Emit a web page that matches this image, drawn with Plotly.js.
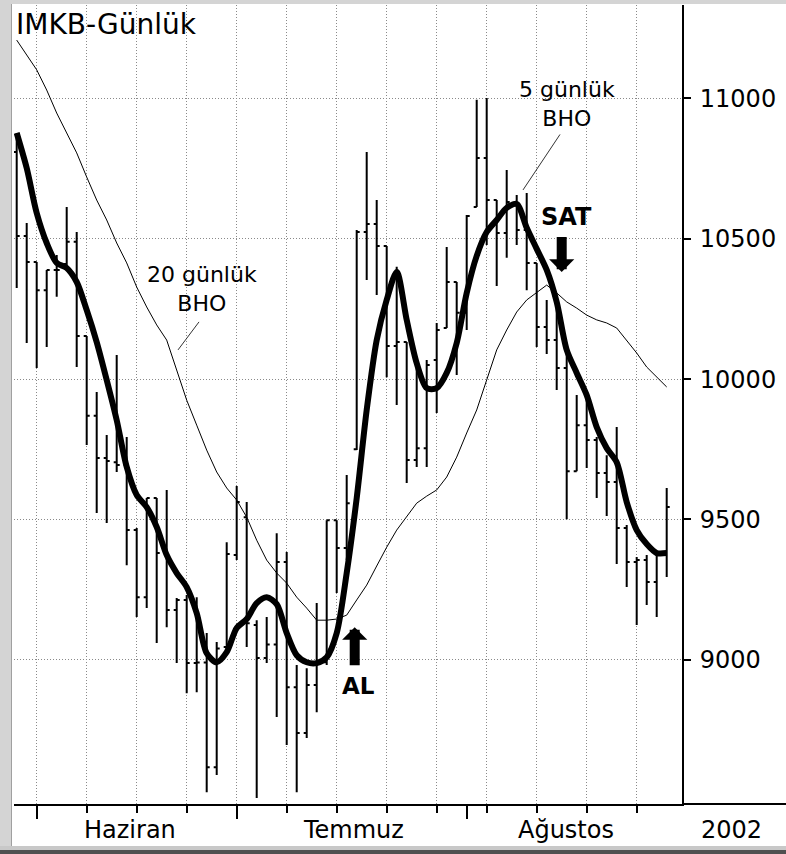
<!DOCTYPE html>
<html><head><meta charset="utf-8">
<script src="https://cdn.plot.ly/plotly-3.0.1.min.js"></script>
<style>html,body{margin:0;padding:0;background:#fff;}#chart{width:786px;height:854px;}</style>
</head><body><div id="chart"></div>
<script>
// ---- DATA ----
const dates = [
 "2002-05-30","2002-05-31",
 "2002-06-03","2002-06-04","2002-06-05","2002-06-06","2002-06-07",
 "2002-06-10","2002-06-11","2002-06-12","2002-06-13","2002-06-14",
 "2002-06-17","2002-06-18","2002-06-19","2002-06-20","2002-06-21",
 "2002-06-24","2002-06-25","2002-06-26","2002-06-27","2002-06-28",
 "2002-07-01","2002-07-02","2002-07-03","2002-07-04","2002-07-05",
 "2002-07-08","2002-07-09","2002-07-10","2002-07-11","2002-07-12",
 "2002-07-15","2002-07-16","2002-07-17","2002-07-18","2002-07-19",
 "2002-07-22","2002-07-23","2002-07-24","2002-07-25","2002-07-26",
 "2002-07-29","2002-07-30","2002-07-31",
 "2002-08-01","2002-08-02",
 "2002-08-05","2002-08-06","2002-08-07","2002-08-08","2002-08-09",
 "2002-08-12","2002-08-13","2002-08-14","2002-08-15","2002-08-16",
 "2002-08-19","2002-08-20","2002-08-21","2002-08-22","2002-08-23",
 "2002-08-26","2002-08-27","2002-08-28","2002-08-29"
];
const openP = [10809,10510,10417,10317,10389,10410,10489,10154,9869,9719,
 9704,9694,9462,9223,9576,9380,9177,9213,8988,8990,
 8617,9045,9373,9508,9124,9006,9054,9348,8902,8739,
 8910,8991,9497,9398,9750,10524,10553,10474,10118,10132,
 9712,9754,10068,10182,10346,10236,10613,10788,10638,10521,
 10631,10531,10414,10186,10139,10040,9672,9836,9783,9665,
 9633,9469,9348,9355,9277,9373];
const highP = [10877,10556,10417,10389,10442,10613,10524,10154,9954,9801,
 10086,9794,9469,9576,9576,9605,9220,9231,9223,9095,
 9063,9419,9619,9562,9141,9152,9451,9384,8981,8970,
 9202,9497,9497,9658,10531,10809,10638,10474,10400,10132,
 10043,10068,10200,10471,10346,10585,10995,11002,10638,10745,
 10656,10663,10414,10282,10250,10122,9943,9943,9794,9729,
 9829,9480,9366,9373,9384,9612];
const lowP = [10325,10129,10040,10114,10293,10399,10043,9765,9523,9487,
 9669,9337,9152,9184,9060,9116,8988,8881,8884,8528,
 8589,9030,9355,9045,8507,8988,8796,8696,8528,8721,
 8813,8981,9238,9355,9747,10353,10300,10007,9908,9630,
 9687,9687,9879,10182,10015,10175,10613,10478,10332,10432,
 10478,10317,10114,10089,9961,9501,9672,9683,9576,9512,
 9341,9259,9124,9195,9152,9295];
const closeP = [10510,10417,10317,10389,10389,10489,10154,9869,9719,9708,
 9694,9462,9223,9576,9380,9177,9213,8988,8990,8617,
 9040,9377,9562,9130,9006,9054,9348,8902,8739,8910,
 8988,9497,9398,9558,10524,10553,10474,10118,10132,9712,
 9754,10050,10175,10346,10236,10581,10788,10638,10521,10631,
 10531,10414,10186,10139,10040,9672,9836,9783,9665,9633,
 9469,9348,9355,9277,9373,9544];
const ma5 = [10877,10752,10592,10485,10414,10396,10346,10246,10132,9997,
 9854,9687,9587,9544,9473,9373,9309,9259,9166,9023,
 8991,9027,9113,9145,9202,9223,9198,9095,9016,8991,
 8988,9009,9095,9309,9576,9890,10139,10282,10382,10211,
 10057,9968,9968,10022,10129,10307,10439,10524,10567,10610,
 10624,10539,10464,10389,10275,10104,10022,9943,9829,9754,
 9704,9562,9462,9412,9380,9380];
const ma20 = [11208,11155,11102,11030,10948,10877,10806,10720,10638,10567,
 10485,10414,10328,10257,10193,10139,10032,9925,9836,9747,
 9669,9612,9569,9508,9426,9355,9309,9273,9223,9184,
 9141,9141,9145,9159,9213,9266,9334,9401,9462,9508,
 9558,9583,9605,9651,9722,9808,9890,9997,10104,10175,
 10239,10282,10310,10335,10307,10275,10253,10228,10211,10200,
 10182,10139,10093,10043,10007,9972];
const weekTicks = ["2002-06-03","2002-06-10","2002-06-17","2002-06-24","2002-07-01",
 "2002-07-08","2002-07-15","2002-07-22","2002-07-29","2002-08-05","2002-08-12",
 "2002-08-19","2002-08-26"];
const monthStarts = ["2002-06-03","2002-07-01","2002-08-01"];
const monthNames = ["Haziran","Temmuz","Ağustos"];
const yTickVals = [9000,9500,10000,10500,11000];
const yTickText = ["9000","9500","10000","10500","11000"];

// ---- LAYOUT HELPERS (pixel -> paper) ----
const PL=14, PR=682, PT=5, PB=804, W=786, H=854;
const px = x => (x-PL)/(PR-PL);
const py = y => (PB-y)/(PB-PT);
const FONT = "DejaVu Sans";
const xr = [-0.27, 66.53];

const traces = [
 {type:'ohlc', x:dates, open:openP, high:highP, low:lowP, close:closeP,
  increasing:{line:{color:'#000',width:2}}, decreasing:{line:{color:'#000',width:2}},
  tickwidth:0.3, hoverinfo:'skip', xaxis:'x', yaxis:'y'},
 {type:'scatter', mode:'lines', x:dates, y:ma5, line:{color:'#000',width:6,shape:'spline',smoothing:0.8},
  hoverinfo:'skip', xaxis:'x', yaxis:'y'},
 {type:'scatter', mode:'lines', x:dates, y:ma20, line:{color:'#000',width:1},
  hoverinfo:'skip', xaxis:'x2', yaxis:'y'}
];

const ann = [];
ann.push({xref:'paper', yref:'paper', x:px(14), y:py(25), xanchor:'left', yanchor:'middle',
  text:'IMKB-Günlük', showarrow:false, font:{family:FONT, size:28, color:'#000'}});
const monthPos = [11.3, 33.7, 54.9];
monthNames.forEach((m,i)=>ann.push({xref:'x', yref:'paper', x:monthPos[i], y:py(830),
  xanchor:'center', yanchor:'middle', text:m, showarrow:false, font:{family:FONT,size:24,color:'#000'}}));
ann.push({xref:'paper', yref:'paper', x:px(731), y:py(830), xanchor:'center', yanchor:'middle',
  text:'2002', showarrow:false, font:{family:FONT,size:24,color:'#000'}});
// MA labels
ann.push({xref:'x', yref:'y', x:18.5, y:10321, text:'20 günlük<br>BHO', showarrow:false,
  font:{family:FONT,size:22,color:'#000'}});
ann.push({xref:'x', yref:'y', x:16.13, y:10104, ax:24, ay:-32, text:' ', showarrow:true,
  arrowhead:0, arrowwidth:1, arrowcolor:'#333', standoff:0});
ann.push({xref:'x', yref:'y', x:55.0, y:10980, text:'5 günlük<br>BHO', showarrow:false,
  font:{family:FONT,size:22,color:'#000'}});
ann.push({xref:'x', yref:'y', x:50.63, y:10674, ax:40, ay:-60, text:' ', showarrow:true,
  arrowhead:0, arrowwidth:1, arrowcolor:'#333', standoff:0});
// signals
ann.push({xref:'x', yref:'y', x:55.0, y:10578, text:'<b>SAT</b>', showarrow:false,
  font:{family:FONT,size:24,color:'#000'}});
ann.push({xref:'x', yref:'y', x:54.5, y:10382, ax:0, ay:-45, text:' ', showarrow:true,
  arrowhead:1, arrowsize:0.42, arrowwidth:10, arrowcolor:'#000', standoff:0});
ann.push({xref:'x', yref:'y', x:34.2, y:8906, text:'<b>AL</b>', showarrow:false,
  font:{family:FONT,size:23,color:'#000'}});
ann.push({xref:'x', yref:'y', x:33.8, y:9116, ax:0, ay:48, text:' ', showarrow:true,
  arrowhead:1, arrowsize:0.42, arrowwidth:10, arrowcolor:'#000', standoff:0});

const shapes = [
 {type:'rect', xref:'paper', yref:'paper', x0:px(0), x1:px(11), y0:py(854), y1:py(0), fillcolor:'#d4d4d4', line:{width:0}},
 {type:'line', xref:'paper', yref:'paper', x0:px(11.5), x1:px(11.5), y0:py(846), y1:py(4), line:{color:'#a0a0a0', width:1}},
 {type:'rect', xref:'paper', yref:'paper', x0:px(0), x1:px(786), y0:py(4), y1:py(0), fillcolor:'#d4d4d4', line:{width:0}},
 {type:'rect', xref:'paper', yref:'paper', x0:px(0), x1:px(786), y0:py(854), y1:py(846), fillcolor:'#c8c8c8', line:{width:0}},
 {type:'rect', xref:'paper', yref:'paper', x0:px(0), x1:px(786), y0:py(854), y1:py(850), fillcolor:'#505050', line:{width:0}},
 {type:'line', xref:'paper', yref:'paper', x0:1, x1:px(786), y0:0, y1:0, line:{color:'#000', width:2}}
];

const layout = {
 width:W, height:H, margin:{l:PL, r:W-PR, t:PT, b:H-PB, pad:0},
 paper_bgcolor:'#fff', plot_bgcolor:'#fff', showlegend:false, hovermode:false, dragmode:false,
 xaxis:{type:'category', range:xr, autorange:false, rangeslider:{visible:false},
   tickmode:'array', tickvals:weekTicks, showticklabels:false,
   ticks:'outside', ticklen:7, tickwidth:2, tickcolor:'#000',
   showgrid:true, gridcolor:'#8a8a8a', gridwidth:1, griddash:'1px,2px',
   showline:true, linecolor:'#000', linewidth:2, zeroline:false, fixedrange:true},
 xaxis2:{type:'category', overlaying:'x', anchor:'y', side:'bottom', range:xr, autorange:false,
   tickmode:'array', tickvals:monthStarts, showticklabels:false,
   ticks:'outside', ticklen:14, tickwidth:2, tickcolor:'#000',
   showgrid:false, showline:false, zeroline:false, fixedrange:true},
 yaxis:{side:'right', range:[8486,11333], autorange:false,
   tickmode:'array', tickvals:yTickVals, ticktext:yTickText,
   ticks:'outside', ticklen:7, tickwidth:2, tickcolor:'#000', ticklabelstandoff:4,
   tickfont:{family:FONT, size:24, color:'#000'},
   showgrid:true, gridcolor:'#8a8a8a', gridwidth:1, griddash:'1px,2px',
   showline:true, linecolor:'#000', linewidth:2, zeroline:false, fixedrange:true},
 annotations:ann, shapes:shapes
};

Plotly.newPlot('chart', traces, layout, {staticPlot:true, displayModeBar:false});
</script></body></html>
